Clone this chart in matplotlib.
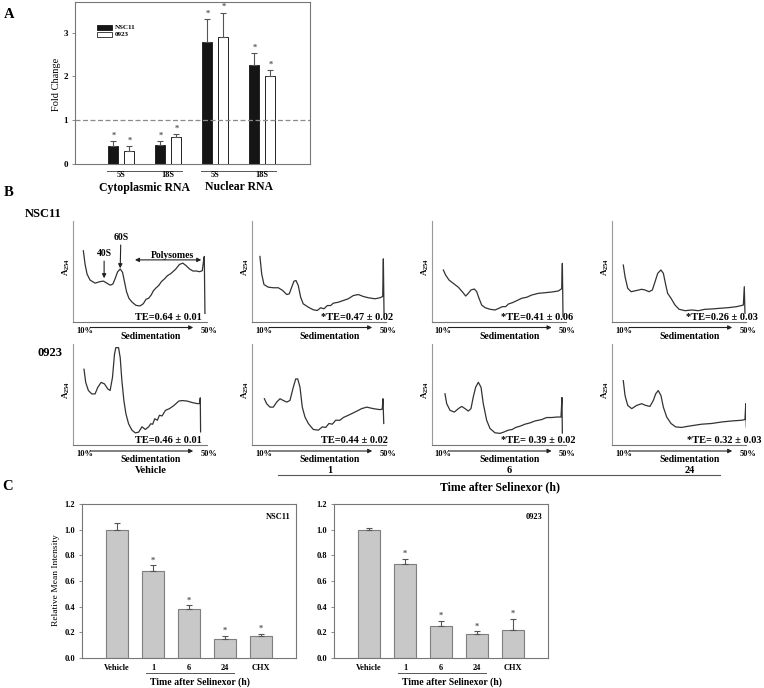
import numpy as np
import matplotlib
matplotlib.use("Agg")
import matplotlib.pyplot as plt
from matplotlib.patches import Rectangle
from matplotlib.lines import Line2D
from matplotlib import transforms

plt.rcParams['font.family'] = 'Liberation Serif'
plt.rcParams['font.weight'] = 'bold'
plt.rcParams['mathtext.default'] = 'regular'

W, H = 764, 688

# ---------------- panel A data (fold change of rRNA) ----------------
a_subunits = ['5S', '18S', '5S', '18S']
a_compartments = ['Cytoplasmic RNA', 'Nuclear RNA']
a_series = ['NSC11', '0923']
a_nsc11 = [0.40, 0.44, 2.79, 2.27]
a_nsc11_err = [0.12, 0.09, 0.52, 0.26]
a_0923 = [0.29, 0.61, 2.91, 2.02]
a_0923_err = [0.11, 0.08, 0.55, 0.12]
a_yticks = [0, 1, 2, 3]

# ---------------- panel B data (polysome profiles, % of track / A254 a.u.) ----------------
nsc11_veh_pos = [7.5, 8.75, 10.25, 12.5, 16.25, 20, 22.5, 25, 27.5, 29.5, 31.25, 33, 35, 36.75,
                 38.25, 39.75, 41.5, 43.75, 46.75, 49.75, 52.25, 54.25, 56.25, 58.25, 59.75,
                 61.75, 63.75, 65.75, 67.75, 70.25, 72.75, 76.25, 79.25, 81.75, 84.25, 86.75,
                 89.25, 91.75, 94.25, 96.25, 97.25, 97.75, 98.25]
nsc11_veh_a = [70, 57, 47, 41, 38, 39.5, 40, 38, 36, 37, 42.5, 49, 52, 48.7, 39, 29.4, 23, 19.3,
               16, 15.4, 17.6, 22, 23, 26.5, 30.4, 33.3, 35.6, 39.5, 41.8, 45.4, 47.4, 51.6, 56.5,
               57.8, 55.2, 52, 50, 50, 49.3, 50.3, 60.5, 64.4, 8]

nsc11_1h_pos = [5.7, 7, 8.7, 11.9, 15.7, 19.4, 22.7, 25.7, 27.6, 29.4, 31.1, 32.6, 34.3, 36.1,
                38, 41.8, 45.5, 48.5, 51, 53.5, 56, 58.5, 60.4, 64.2, 67.9, 71.6, 75.4, 79.1,
                82.8, 86.6, 91.6, 95.3, 97.3, 97.8, 98.3]
nsc11_1h_a = [64.4, 47.2, 36.6, 34, 33.4, 33.4, 30.7, 26.7, 27.4, 34, 39.9, 40.6, 35.6, 24,
              17.5, 14.2, 11.6, 10.9, 13.6, 12.6, 15.8, 15.8, 18.1, 19.1, 20.8, 22.5, 25.7, 26.7,
              24.8, 23.5, 22.5, 23.5, 24.8, 62, 7.6]

nsc11_6h_pos = [8.7, 10.4, 12.9, 16.1, 19.9, 22.8, 25.4, 27.3, 29.3, 31.8, 33.6, 35.3, 37.3,
                39.8, 43.5, 47.2, 50.2, 52.7, 55.2, 57.2, 60.1, 63.4, 67.2, 70.9, 74.6, 79.6,
                84.6, 89.6, 94.5, 97, 97.5, 98]
nsc11_6h_a = [51, 46, 41.1, 37.8, 33.9, 29.5, 25.2, 27.9, 31.2, 32.2, 29.5, 23, 16.3, 13.7,
              12.1, 11.4, 13.1, 14.7, 14.7, 17.3, 18.6, 20.6, 23, 24, 26.2, 27.9, 28.5, 29.2,
              30.2, 32.5, 57.6, 4.8]

nsc11_24h_pos = [8.2, 9.5, 11.5, 14, 17.5, 21.9, 24.4, 27.4, 29.9, 31.9, 33.9, 36.3, 38.1,
                 39.9, 41.3, 43.8, 46.8, 49.8, 54.3, 59.3, 64.2, 69.2, 74.2, 80.4, 86.6, 92.8,
                 97.8, 98.5, 99]
nsc11_24h_a = [55.9, 44.4, 32.9, 29.5, 30.5, 31.9, 31.2, 29.5, 31.2, 39.4, 47.7, 51, 47.7,
               36.1, 27.9, 23, 16.3, 12.1, 10.7, 11.4, 10.7, 12.1, 12.4, 13.1, 13.7, 14.7,
               16.3, 34.5, 8.1]

c0923_veh_pos = [8, 9.25, 11.25, 13.75, 16.25, 18.25, 20.75, 23.25, 25.75, 27.5, 29.25, 30.75,
                 31.75, 33.75, 35, 36.25, 37.75, 39.25, 41.25, 43.75, 46.25, 48.75, 51.25,
                 53.75, 56.25, 57.75, 59.25, 60.75, 62.75, 64.25, 66.25, 68.75, 71.75, 75,
                 78.75, 81.25, 85, 88.75, 92.5, 94.25, 94.75, 95]
c0923_veh_a = [75, 62, 54, 50.6, 50.6, 57, 62, 60.5, 55.5, 54, 67, 90, 96.4, 96.4, 86.6, 63.7,
               44, 31, 21, 14.7, 12, 12.7, 18, 15.4, 18, 21, 20.6, 26, 24.5, 29.4, 28.8, 34.3,
               36, 39, 43.5, 44, 43.5, 42, 41, 41, 46.7, 13]

c0923_1h_pos = [9, 10.7, 13.2, 15.7, 18.2, 20.7, 23.1, 25.7, 28.1, 30.6, 32.4, 33.9, 35.6,
                37.3, 39.3, 41.8, 45.5, 49.3, 52.2, 54.8, 57.2, 59.7, 62.2, 65.4, 67.9, 71.6,
                76.6, 81.6, 85.4, 90.3, 95.3, 97, 97.5, 98.1]
c0923_1h_a = [45.8, 40.9, 37.5, 37.5, 42.5, 45.8, 44.1, 42.5, 44.1, 57.2, 65.4, 65.4, 57.2,
              37.5, 27.7, 21.3, 15.4, 14.7, 17.9, 17.4, 21.3, 20.6, 24.5, 24.5, 27.2, 29.4,
              32.6, 36, 37.5, 36, 35, 35.6, 45.8, 21.3]

c0923_6h_pos = [9.9, 11.2, 13.7, 16.9, 19.9, 22.4, 24.9, 27.3, 29.3, 31, 32.8, 34.8, 36.8,
                38.5, 41, 43.5, 47.2, 51, 54.2, 57.2, 60.1, 62.7, 65.9, 69.6, 73.4, 77.1, 82.1,
                85.8, 89.6, 93.3, 96.5, 97.2, 97.5]
c0923_6h_a = [50.7, 40.9, 34.3, 32.6, 36, 38.2, 36, 33.6, 36, 47.4, 57.2, 62.1, 57.2, 40.9,
              24.5, 16.4, 12.1, 11.5, 13, 14.7, 15.4, 17.4, 18.6, 20.6, 21.9, 23.8, 25.2, 27.2,
              27.2, 27.7, 27.7, 47, 11.8]

c0923_24h_pos = [8.2, 9.5, 11.5, 14.5, 18.2, 21.9, 24.9, 28.1, 30.6, 32.4, 34.3, 36.3, 38.1,
                 40.6, 43.8, 47.3, 51.8, 56.7, 61.7, 66.7, 74.2, 81.6, 89.1, 96.6, 99, 99.6, 100]
c0923_24h_a = [63.7, 49, 39.2, 36, 39.2, 40.9, 39.2, 38.2, 44.1, 50.7, 53.9, 49, 37.5, 27.7,
               21.3, 17.9, 17.4, 18.6, 19.6, 20.6, 21.3, 22.8, 23.8, 24.5, 25.2, 40.9, 17.9]

b_rows = ['NSC11', '0923']
b_times = ['Vehicle', '1', '6', '24']
b_te_nsc11 = ['TE=0.64 \u00b1 0.01', '*TE=0.47 \u00b1 0.02', '*TE=0.41 \u00b1 0.06',
              '*TE=0.26 \u00b1 0.03']
b_te_0923 = ['TE=0.46 \u00b1 0.01', 'TE=0.44 \u00b1 0.02', '*TE= 0.39 \u00b1 0.02',
             '*TE= 0.32 \u00b1 0.03']

# ---------------- panel C data (relative mean intensity) ----------------
c_labels = ['Vehicle', '1', '6', '24', 'CHX']
c_nsc11 = [1.00, 0.68, 0.38, 0.15, 0.17]
c_nsc11_err = [0.055, 0.045, 0.03, 0.022, 0.02]
c_0923 = [1.00, 0.73, 0.25, 0.19, 0.22]
c_0923_err = [0.01, 0.045, 0.04, 0.02, 0.085]
c_sig = [False, True, True, True, True]
c_yticks = [0.0, 0.2, 0.4, 0.6, 0.8, 1.0, 1.2]


def px_rect(left, top, width, height):
    return [left / W, 1 - (top + height) / H, width / W, height / H]


def blend(ax):
    return transforms.blended_transform_factory(ax.transData, ax.transAxes)


def frame(ax, color='#777777'):
    for s in ax.spines.values():
        s.set_color(color)
        s.set_linewidth(0.8)


fig = plt.figure(figsize=(W / 100, H / 100), dpi=100)

# panel letters
fig.text(9 / W, 1 - 15 / H, 'A', fontsize=10.5, ha='center', va='center')
fig.text(9 / W, 1 - 193 / H, 'B', fontsize=10.5, ha='center', va='center')
fig.text(8 / W, 1 - 486 / H, 'C', fontsize=10.5, ha='center', va='center')

# ================= panel A =================
axA_h = 162
axA = fig.add_axes(px_rect(75, 2, 235, axA_h))
grp = np.arange(1, 5)
bw = 0.22
off = 0.17
axA.bar(grp - off, a_nsc11, bw, color='#151515', edgecolor='#151515', lw=0.6)
axA.bar(grp + off, a_0923, bw, color='white', edgecolor='#222222', lw=0.7)
axA.errorbar(grp - off, a_nsc11, yerr=[np.zeros(4), a_nsc11_err], fmt='none',
             ecolor='#555555', elinewidth=0.8, capsize=2.5, capthick=0.8)
axA.errorbar(grp + off, a_0923, yerr=[np.zeros(4), a_0923_err], fmt='none',
             ecolor='#555555', elinewidth=0.8, capsize=2.5, capthick=0.8)
for xs, v, e in [(grp - off, a_nsc11, a_nsc11_err), (grp + off, a_0923, a_0923_err)]:
    for x, vv, ee in zip(xs, v, e):
        axA.text(x, vv + ee + 0.03, '*', ha='center', va='bottom', fontsize=6, color='#555555')
axA.axhline(1, color='#8a8a8a', lw=0.9, dashes=(4, 2))
axA.set_xlim(0.015, 5.015)
axA.set_ylim(0, 3.7)
axA.set_xticks([])
axA.set_yticks(a_yticks)
axA.tick_params(axis='y', labelsize=6.5, length=2, width=0.6, color='#777777', pad=3)
frame(axA)
axA.set_ylabel('Fold Change', fontsize=7.5)
axA.yaxis.set_label_coords((61 - 75) / 235, (164 - 84) / axA_h)

# legend boxes
axA.add_patch(Rectangle((0.095, 0.827), 0.064, 0.031, transform=axA.transAxes,
                        facecolor='#151515', edgecolor='#151515', lw=0.6))
axA.add_patch(Rectangle((0.095, 0.782), 0.064, 0.031, transform=axA.transAxes,
                        facecolor='white', edgecolor='#222222', lw=0.6))
axA.text(0.17, 0.843, a_series[0], transform=axA.transAxes, fontsize=5, va='center')
axA.text(0.17, 0.798, a_series[1], transform=axA.transAxes, fontsize=5, va='center')

bA = blend(axA)
for x, s in zip(grp, a_subunits):
    axA.text(x, -11 / axA_h, s, transform=bA, ha='center', va='center', fontsize=6)
for i, name in enumerate(a_compartments):
    x0, x1 = grp[2 * i] - 0.3, grp[2 * i + 1] + 0.3
    axA.plot([x0, x1], [-6.5 / axA_h] * 2, transform=bA, clip_on=False, color='#555555',
             lw=0.7)
    axA.text((grp[2 * i] + grp[2 * i + 1]) / 2, -23.5 / axA_h, name, transform=bA,
             ha='center', va='center', fontsize=8.5)

# ================= panel B =================
prof_lefts = [73.3, 252.3, 431.7, 612.3]
row_tops = [220.5, 344]
prof_w, prof_h = 134, 101
te_right = [[96, 105, 105.4, 109], [96, 101, 107, 111]]

traces = [
    [(nsc11_veh_pos, nsc11_veh_a), (nsc11_1h_pos, nsc11_1h_a),
     (nsc11_6h_pos, nsc11_6h_a), (nsc11_24h_pos, nsc11_24h_a)],
    [(c0923_veh_pos, c0923_veh_a), (c0923_1h_pos, c0923_1h_a),
     (c0923_6h_pos, c0923_6h_a), (c0923_24h_pos, c0923_24h_a)],
]
te_labels = [b_te_nsc11, b_te_0923]
arrow_kw = dict(arrowstyle='-|>', color='#222222', lw=0.8, mutation_scale=6,
                shrinkA=0, shrinkB=0)

for r in range(2):
    fig.text(62 / W, 1 - (214 if r == 0 else 353) / H, b_rows[r], fontsize=9,
             ha='right', va='center')
    for c in range(4):
        ax = fig.add_axes(px_rect(prof_lefts[c], row_tops[r], prof_w, prof_h))
        pos, ab = traces[r][c]
        ax.plot(pos, ab, color='#333333', lw=0.9)
        ax.set_xlim(0, 100)
        ax.set_ylim(0, 100)
        ax.set_xticks([])
        ax.set_yticks([])
        for s in ['top', 'right']:
            ax.spines[s].set_visible(False)
        ax.spines['left'].set_color('#999999')
        ax.spines['bottom'].set_color('#777777')
        ax.spines['left'].set_linewidth(0.8)
        ax.spines['bottom'].set_linewidth(0.8)
        ax.text(-0.05, 0.54, r'A$_{254}$', transform=ax.transAxes, rotation=90,
                ha='center', va='center', fontsize=6.5)
        ax.text(te_right[r][c], 4.5 / prof_h, te_labels[r][c], transform=blend(ax),
                ha='right', va='center', fontsize=7.5)
        b = blend(ax)
        ax.annotate('', xy=(89.5, -6 / prof_h), xytext=(12.5, -6 / prof_h),
                    xycoords=b, textcoords=b, arrowprops=arrow_kw, annotation_clip=False)
        ax.text(8.6, -9.5 / prof_h, '10%', transform=b, ha='center', va='center', fontsize=6)
        ax.text(101, -9.5 / prof_h, '50%', transform=b, ha='center', va='center', fontsize=6)
        ax.text(58, -15 / prof_h, 'Sedimentation', transform=b, ha='center', va='center',
                fontsize=7)
        if r == 1:
            ax.text(58, -25.5 / prof_h, b_times[c], transform=b, ha='center', va='center',
                    fontsize=7.5)
        if r == 0 and c == 0:
            ax.annotate('60S', xy=(35, 52.7), xytext=(35.5, 83), ha='center', va='center',
                        fontsize=7, arrowprops=arrow_kw)
            ax.annotate('40S', xy=(23, 42.8), xytext=(23, 67), ha='center', va='center',
                        fontsize=7, arrowprops=arrow_kw)
            ax.annotate('', xy=(95.5, 61), xytext=(46, 61),
                        arrowprops=dict(arrowstyle='<|-|>', color='#222222', lw=0.8,
                                        mutation_scale=6, shrinkA=0, shrinkB=0))
            ax.text(74, 65, 'Polysomes', ha='center', va='center', fontsize=7)

fig.add_artist(Line2D([278 / W, 720 / W], [1 - 475 / H] * 2, color='#555555', lw=0.8))
fig.text(500 / W, 1 - 487 / H, 'Time after Selinexor (h)', ha='center', va='center',
         fontsize=8.5)

# ================= panel C =================
c_h = 154
for left, vals, errs, name in [(82, c_nsc11, c_nsc11_err, 'NSC11'),
                               (334, c_0923, c_0923_err, '0923')]:
    ax = fig.add_axes(px_rect(left, 504, 214, c_h))
    x = np.arange(len(c_labels))
    ax.bar(x, vals, 0.6, color='#c8c8c8', edgecolor='#7f7f7f', lw=0.8)
    ax.errorbar(x, vals, yerr=[np.zeros(len(x)), errs], fmt='none', ecolor='#555555',
                elinewidth=0.8, capsize=2.5, capthick=0.8)
    for xi, v, e, s in zip(x, vals, errs, c_sig):
        if s:
            ax.text(xi, v + e + 0.005, '*', ha='center', va='bottom', fontsize=6,
                    color='#555555')
    ax.set_xlim(-0.972, 4.97)
    ax.set_ylim(0, 1.2)
    ax.set_xticks([])
    ax.set_yticks(c_yticks)
    ax.set_yticklabels(['%.1f' % t for t in c_yticks])
    ax.tick_params(axis='y', labelsize=6, length=2, width=0.6, color='#777777', pad=3)
    frame(ax)
    b = blend(ax)
    for xi, lab in zip(x, c_labels):
        ax.text(xi, -10 / c_h, lab, transform=b, ha='center', va='center', fontsize=6)
    ax.plot([0.8, 3.25], [-15 / c_h] * 2, transform=b, clip_on=False, color='#555555',
            lw=0.7)
    ax.text(2.3, -24 / c_h, 'Time after Selinexor (h)', transform=b, ha='center',
            va='center', fontsize=7)
    ax.text(0.975, 0.916, name, transform=ax.transAxes, ha='right', va='center', fontsize=6)
    if name == 'NSC11':
        ax.set_ylabel('Relative Mean Intensity', fontsize=6.8)
        ax.yaxis.set_label_coords((60 - 82) / 214, (658 - 580) / c_h)

fig.savefig('out.png', dpi=100)
